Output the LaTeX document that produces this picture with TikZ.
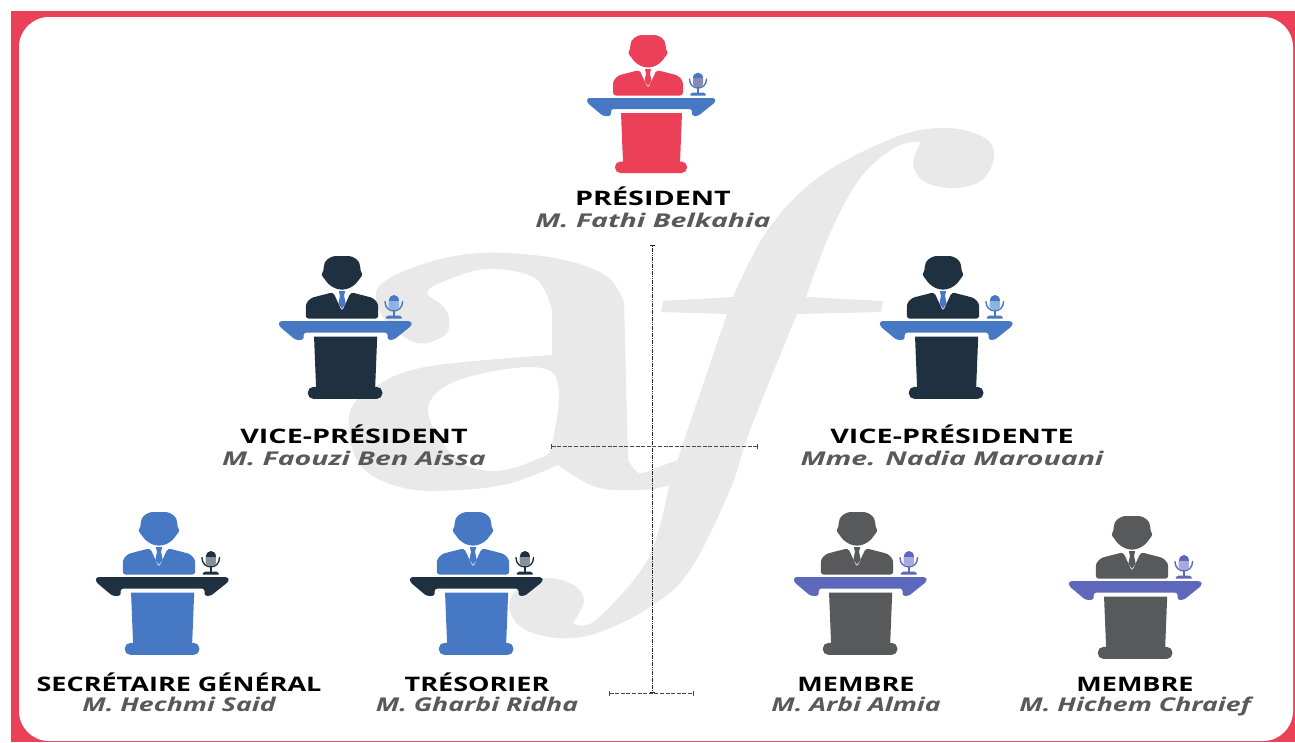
\documentclass[tikz,border=0pt]{standalone}
\usepackage{fontspec}
\usetikzlibrary{arrows.meta}
\newfontfamily\roleTop[FakeStretch=1.435]{Open Sans}
\newfontfamily\roleLow[FakeStretch=1.35]{Open Sans}
\newfontfamily\nameTop[FakeStretch=1.5]{Open Sans}
\newfontfamily\nameLow[FakeStretch=1.405]{Open Sans}
\definecolor{frameRed}{HTML}{EB4057}
\definecolor{blueC}{HTML}{4678C4}
\definecolor{navyC}{HTML}{1F3040}
\definecolor{grayC}{HTML}{58595B}
\definecolor{purpleC}{HTML}{5D68BC}
\definecolor{markC}{HTML}{E9E9E9}
\definecolor{lowRed}{HTML}{8D87B8}
\definecolor{lowBlue}{HTML}{8FB2E2}
\definecolor{lowNavy}{HTML}{8A9097}
\definecolor{lowPurple}{HTML}{A3ABE0}
\tikzset{
  labelbase/.style={anchor=base,inner sep=0pt},
  roletop/.style={labelbase,text=black,font=\roleTop\fontsize{20}{20}\selectfont\bfseries},
  rolelow/.style={labelbase,text=black,font=\roleLow\fontsize{20}{20}\selectfont\bfseries},
  nametop/.style={labelbase,text=grayC,font=\nameTop\fontsize{19}{20}\selectfont\bfseries\itshape},
  namelow/.style={labelbase,text=grayC,font=\nameLow\fontsize{19}{20}\selectfont\bfseries\itshape},
  guide/.style={line width=1pt,{Bar[width=5pt,line width=0.9pt]}-{Bar[width=5pt,line width=0.9pt]}},
  guideh/.style={guide,black!72,dash pattern=on 4pt off 1.6pt},
  guidev/.style={guide,black!85,dash pattern=on 1.6pt off 0.7pt},
  watermark/.style={fill=markC,draw=none}
}
% #1 head x, #2 head top y, #3 scale, #4 body, #5 desk, #6 tie, #7 mic top, #8 mic low
\newcommand{\speaker}[8]{%
\begin{scope}[shift={(#1,#2)},scale=#3,shift={(-648,-35)}]
  % head
  \fill[#4] plot[smooth cycle,tension=0.6] coordinates {(648,35) (658,35.8) (664.5,41) (666,49) (667.5,53) (665,57) (661,62) (655,66) (648,67.5) (641,66) (635,62) (631,57) (628.5,53) (630,49) (631.5,41) (638,35.8)};
  % jacket
  \fill[#4,rounded corners=3pt] (613,95.5) -- (613,81) -- (618,75.5) -- (639.5,70) -- (648,88.5) -- (656.5,70) -- (678,75.5) -- (683,81) -- (683,95.5) -- cycle;
  % tie
  \fill[#6] (645,69) -- (651,69) -- (650,73.5) -- (651.5,81) -- (648,86) -- (644.5,81) -- (646,73.5) -- cycle;
  % desk
  \fill[#5,rounded corners=2.5pt] (587,98) -- (715,98) -- (715.5,102) -- (698,116) -- (692,116) -- (692,109) -- (611,109) -- (611,116) -- (603,116) -- (587,102.5) -- cycle;
  % pedestal
  \fill[#4] (621,113) -- (682,113) -- (680,163) -- (623,163) -- cycle;
  \fill[#4,rounded corners=5.4pt] (615,173) -- (615,161.5) -- (687,161.5) -- (687,173) -- cycle;
  % microphone
  \draw[#5,line width=1.4pt,line cap=round] (689.5,79) .. controls (689.5,91) and (706.5,91) .. (706.5,79);
  \draw[#5,line width=1.6pt] (698,86) -- (698,93);
  \fill[#5,rounded corners=1pt] (689.5,95.5) -- (692,92.5) -- (704,92.5) -- (706.5,95.5) -- cycle;
  \fill[#8,rounded corners=3pt] (693,76) -- (693,87) -- (703,87) -- (703,76) -- cycle;
  \fill[#7] (693,78) .. controls (693,70.5) and (703,70.5) .. (703,78) -- cycle;
\end{scope}}
\begin{document}
\begin{tikzpicture}[x=1pt,y=-1pt]
\useasboundingbox (0,0) rectangle (1295,742);
\fill[white] (0,0) rectangle (1295,742);
\fill[frameRed] (11,11) rectangle (1295,742);
\fill[white,rounded corners=30pt] (19,17) rectangle (1293,741);
% watermark f
\fill[watermark] plot[smooth,tension=0.6] coordinates {(733,297) (767,231) (819,177) (896,137) (947,128) (985,138) (994,157) (982,180) (955,188) (925,182) (913,164) (921,142)}
  -- plot[smooth,tension=0.6] coordinates {(921,142) (896,147) (861,177) (831,231) (806,297)}
  -- (883,301) -- (881,312) -- (797,314)
  -- plot[smooth,tension=0.6] coordinates {(797,314) (750,430) (730,490) (690,570) (650,607) (597,633) (558,638) (522,628) (509,606) (520,587) (545,578) (572,584) (584,600) (573,623)}
  -- plot[smooth,tension=0.6] coordinates {(573,623) (596,620) (648,559) (669,485)}
  -- (727,314) -- (661,312) -- (663,301) -- cycle;
% watermark a
\fill[watermark,even odd rule] plot[smooth,tension=0.6] coordinates {(440,283) (485,269) (535,278) (552,310)}
  -- (552,355)
  -- plot[smooth,tension=0.6] coordinates {(552,355) (425,367) (370,390) (349,417) (360,465) (404,488) (460,490) (511,483) (558,465)}
  -- plot[smooth,tension=0.6] coordinates {(558,465) (596,487) (639,490) (669,485) (690,470)}
  -- plot[smooth,tension=0.6] coordinates {(690,455) (656,468) (639,473) (628,460)}
  -- (624,302)
  -- plot[smooth,tension=0.6] coordinates {(624,302) (605,275) (554,258) (481,253) (420,265) (378,288) (385,320) (417,343) (445,335) (449,319) (443,306) (429,296) (429,289) (440,283)} -- cycle
  plot[smooth cycle,tension=0.6] coordinates {(552,372) (468,377) (428,407) (455,458) (494,471) (535,460) (552,444)};
% guides
\coordinate (vtop) at (652,245);
\coordinate (vbot) at (652,693);
\coordinate (mL) at (551,446);
\coordinate (mR) at (758,446);
\coordinate (bL) at (609,693);
\coordinate (bR) at (694,693);
\draw[guidev] (vtop) -- (vbot);
\draw[guideh] (mL) -- (mR);
\draw[guideh] (bL) -- (bR);
% speakers
\speaker{648}{35}{1}{frameRed}{blueC}{frameRed}{blueC}{lowRed}
\speaker{342}{256}{1.035}{navyC}{blueC}{blueC}{blueC}{lowBlue}
\speaker{943}{256}{1.035}{navyC}{blueC}{blueC}{blueC}{lowBlue}
\speaker{159}{512}{1.035}{blueC}{navyC}{blueC}{navyC}{lowNavy}
\speaker{473}{512}{1.035}{blueC}{navyC}{blueC}{navyC}{lowNavy}
\speaker{857}{512}{1.035}{grayC}{purpleC}{grayC}{purpleC}{lowPurple}
\speaker{1132}{516}{1.035}{grayC}{purpleC}{grayC}{purpleC}{lowPurple}
% labels
\node[roletop] (r1) at (653,205) {PRÉSIDENT};
\node[nametop] (n1) at (653,227) {M. Fathi Belkahia};
\node[roletop] (r2) at (354,443) {VICE-PRÉSIDENT};
\node[nametop] (n2) at (354,465) {M. Faouzi Ben Aissa};
\node[roletop] (r3) at (952,443) {VICE-PRÉSIDENTE};
\node[nametop] (n3) at (952,465) {Mme. Nadia Marouani};
\node[rolelow] (r4) at (179,691) {SECRÉTAIRE GÉNÉRAL};
\node[namelow] (n4) at (179,711) {M. Hechmi Said};
\node[rolelow] (r5) at (477,691) {TRÉSORIER};
\node[namelow] (n5) at (477,711) {M. Gharbi Ridha};
\node[rolelow] (r6) at (856,691) {MEMBRE};
\node[namelow] (n6) at (856,711) {M. Arbi Almia};
\node[rolelow] (r7) at (1135,691) {MEMBRE};
\node[namelow] (n7) at (1135,711) {M. Hichem Chraief};
\end{tikzpicture}
\end{document}
